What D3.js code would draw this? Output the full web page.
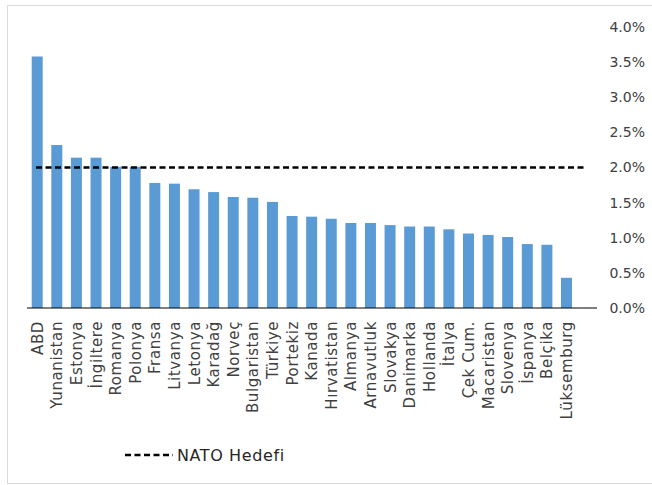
<!DOCTYPE html>
<html>
<head>
<meta charset="utf-8">
<script src="https://cdn.jsdelivr.net/npm/d3@7"></script>
<style>
  body { margin: 0; background: #fff; }
  svg { display: block; font-family: "DejaVu Sans", sans-serif; }
</style>
</head>
<body>
<svg></svg>
<script>
const countries = ['ABD', 'Yunanistan', 'Estonya', 'İngiltere', 'Romanya', 'Polonya', 'Fransa', 'Litvanya',
  'Letonya', 'Karadağ', 'Norveç', 'Bulgaristan', 'Türkiye', 'Portekiz', 'Kanada', 'Hırvatistan',
  'Almanya', 'Arnavutluk', 'Slovakya', 'Danimarka', 'Hollanda', 'İtalya', 'Çek Cum.', 'Macaristan',
  'Slovenya', 'İspanya', 'Belçika', 'Lüksemburg'];
const spending = [3.58, 2.32, 2.14, 2.14, 2.01, 2.01, 1.78, 1.77,
  1.69, 1.65, 1.58, 1.57, 1.51, 1.31, 1.30, 1.27,
  1.21, 1.21, 1.18, 1.16, 1.16, 1.12, 1.06, 1.04,
  1.01, 0.91, 0.90, 0.43];
const natoTarget = 2.0;
const yTicks = [0, 0.5, 1, 1.5, 2, 2.5, 3, 3.5, 4];

const width = 652;
const height = 485;

const svg = d3.select('svg')
  .attr('width', width)
  .attr('height', height);

// outer frame
svg.append('rect')
  .attr('x', 7.5).attr('y', 5.5)
  .attr('width', 660).attr('height', 478)
  .attr('fill', 'none')
  .attr('stroke', '#d9d9d9');

const x = d3.scaleBand()
  .domain(countries)
  .range([27.4, 576.3])
  .paddingInner(0.44)
  .paddingOuter(0.22);

const y = d3.scaleLinear()
  .domain([0, 4])
  .range([308, 27]);

svg.selectAll('.bar')
  .data(countries)
  .enter().append('rect')
  .attr('class', 'bar')
  .attr('x', d => x(d))
  .attr('y', (d, i) => y(spending[i]))
  .attr('width', x.bandwidth())
  .attr('height', (d, i) => y(0) - y(spending[i]))
  .attr('fill', '#5b9bd5');

// baseline
svg.append('line')
  .attr('x1', 27).attr('x2', 597)
  .attr('y1', y(0)).attr('y2', y(0))
  .attr('stroke', '#000')
  .attr('stroke-width', 1);

// NATO target line
svg.append('line')
  .attr('x1', 36).attr('x2', 587)
  .attr('y1', y(natoTarget)).attr('y2', y(natoTarget))
  .attr('stroke', '#000')
  .attr('stroke-width', 2.5)
  .attr('stroke-dasharray', '6,3.5');

// right axis labels
svg.selectAll('.ytick')
  .data(yTicks)
  .enter().append('text')
  .attr('class', 'ytick')
  .attr('x', 645)
  .attr('y', d => y(d))
  .attr('dy', '0.35em')
  .attr('text-anchor', 'end')
  .attr('font-size', 14)
  .attr('fill', '#404040')
  .text(d => d.toFixed(1) + '%');

// category labels
svg.selectAll('.xlabel')
  .data(countries)
  .enter().append('text')
  .attr('class', 'xlabel')
  .attr('transform', d => `translate(${x(d) + x.bandwidth() / 2 + 5.5},321) rotate(-90)`)
  .attr('text-anchor', 'end')
  .attr('font-size', 15)
  .attr('letter-spacing', 0.6)
  .attr('fill', '#404040')
  .text(d => d);

// legend
svg.append('line')
  .attr('x1', 125).attr('x2', 173)
  .attr('y1', 455).attr('y2', 455)
  .attr('stroke', '#000')
  .attr('stroke-width', 2.5)
  .attr('stroke-dasharray', '6,3.5');

svg.append('text')
  .attr('x', 177)
  .attr('y', 455)
  .attr('dy', '0.35em')
  .attr('font-size', 16)
  .attr('letter-spacing', 0.6)
  .attr('fill', '#262626')
  .text('NATO Hedefi');
</script>
</body>
</html>
